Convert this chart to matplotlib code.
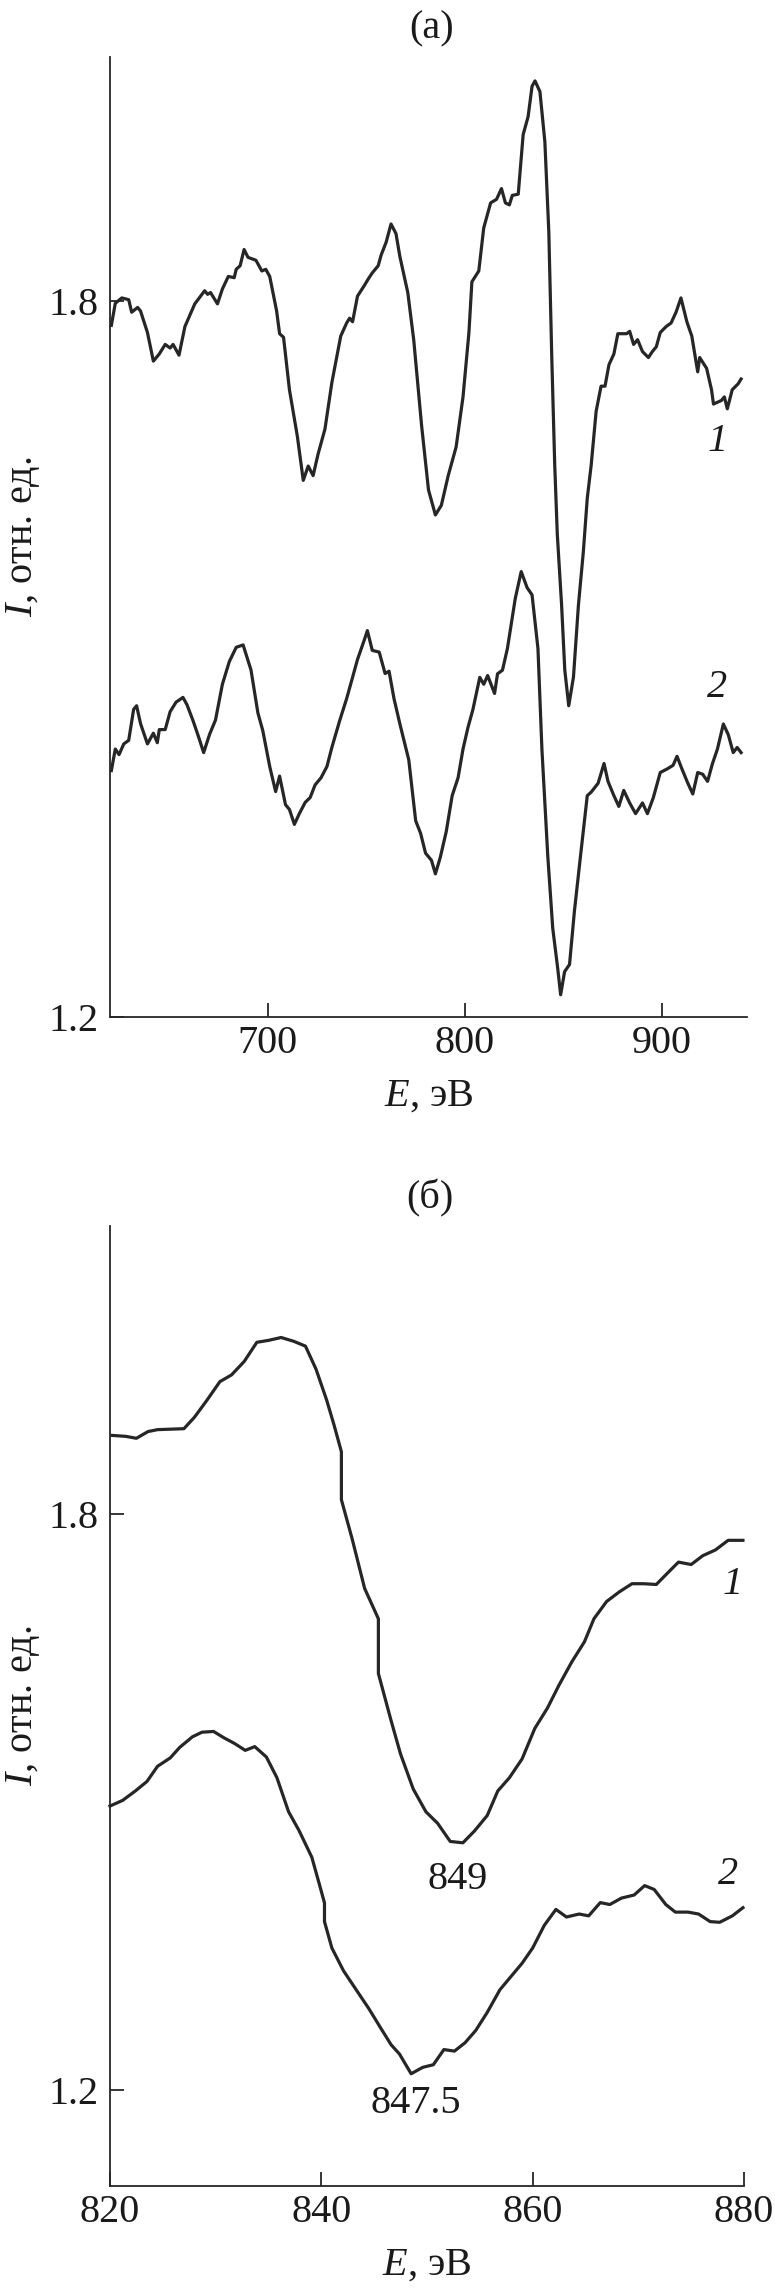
import matplotlib
matplotlib.use("Agg")
import matplotlib.pyplot as plt

plt.rcParams['font.family'] = ['Liberation Serif', 'DejaVu Serif']
plt.rcParams['mathtext.fontset'] = 'custom'
plt.rcParams['mathtext.rm'] = 'Liberation Serif'
plt.rcParams['mathtext.it'] = 'Liberation Serif:italic'

# ---------------- data: panel (a) ----------------
E_a1 = [620.7, 622.7, 626, 629.5, 631, 634, 635.5, 639, 642, 645, 648, 650.5, 652, 655, 658, 663, 668,
        669.5, 671, 674.5, 677, 680, 683, 684, 686, 688, 690, 694, 697, 699, 701, 704.5, 706, 708, 711,
        715, 718, 720.5, 723, 725.5, 729, 732.5, 737, 740, 741.5, 743, 745.5, 749, 751, 753, 756, 757.5,
        760, 762.5, 765, 767, 771, 774, 778, 781.5, 785, 788, 791.5, 795.5, 799, 802, 803.5, 807, 809.5,
        813, 816, 818.5, 820.5, 822.5, 824, 827, 829.5, 832, 834, 835.5, 838, 840.5, 842.5, 844, 845.5,
        846.8, 849, 850.6, 852.6, 855, 857.5, 860, 862, 864, 866.5, 869, 871, 873, 875.5, 877.5, 882,
        883.5, 885.5, 887.5, 890, 893, 895, 897, 899, 902, 904.5, 907, 909.5, 912.5, 915, 918, 919, 922.5,
        925, 926, 930, 931.5, 933, 935.5, 938.5, 940]
I_a1 = [1.780, 1.7985, 1.803, 1.8015, 1.791, 1.795, 1.792, 1.774, 1.750, 1.756, 1.764, 1.761, 1.764, 1.755,
        1.779, 1.798, 1.809, 1.806, 1.8075, 1.798, 1.8105, 1.821, 1.820, 1.827, 1.830, 1.8436, 1.837, 1.8346,
        1.8256, 1.827, 1.821, 1.792, 1.773, 1.770, 1.726, 1.687, 1.650, 1.662, 1.654, 1.672, 1.693, 1.732,
        1.771, 1.782, 1.786, 1.783, 1.8045, 1.8135, 1.819, 1.824, 1.830, 1.839, 1.8496, 1.865, 1.857, 1.8376,
        1.8075, 1.768, 1.696, 1.642, 1.621, 1.629, 1.654, 1.678, 1.720, 1.774, 1.8165, 1.8256, 1.8617, 1.8827,
        1.8857, 1.8947, 1.8827, 1.881, 1.889, 1.890, 1.940, 1.955, 1.9805, 1.985, 1.976, 1.934, 1.8586, 1.7534,
        1.663, 1.605, 1.545, 1.491, 1.461, 1.485, 1.545, 1.590, 1.635, 1.663, 1.708, 1.729, 1.729, 1.747, 1.756,
        1.773, 1.773, 1.775, 1.764, 1.768, 1.758, 1.753, 1.758, 1.762, 1.774, 1.779, 1.782, 1.791, 1.803, 1.783,
        1.771, 1.741, 1.753, 1.744, 1.726, 1.714, 1.717, 1.720, 1.710, 1.726, 1.731, 1.735]

E_a2 = [620.7, 622.7, 624.6, 627, 629.5, 632, 633.5, 635.5, 639, 642, 644, 645, 648, 650.5, 653.5, 657,
        659, 662, 664.5, 667.5, 670.5, 673.5, 677, 680.5, 684, 687.5, 691.5, 695, 697.5, 701, 704, 706,
        709, 711, 713.5, 716, 719, 721.5, 724, 727, 730, 732.5, 736.5, 740, 743, 745.5, 749, 750.5, 753,
        756.5, 759.5, 761.5, 764, 767, 771.5, 775, 777.5, 780, 783, 785, 787.5, 790.5, 793.5, 796.5, 799,
        801.5, 804, 807.5, 809.5, 811.5, 815, 816.5, 819, 821.5, 825.5, 828.5, 831.5, 834, 837, 839, 842,
        844.5, 847, 848.5, 850.5, 853, 855.5, 858.5, 862, 864, 867.5, 870.5, 872.5, 875.5, 878, 880.5,
        883.5, 886.5, 890, 892.5, 895.5, 899, 902.5, 905.5, 907.5, 910, 913, 915.5, 918, 920.5, 923,
        925.5, 928, 931, 933.5, 936, 938, 940]
I_a2 = [1.4066, 1.4247, 1.420, 1.429, 1.432, 1.458, 1.461, 1.446, 1.429, 1.438, 1.430, 1.441, 1.441, 1.456,
        1.464, 1.468, 1.462, 1.449, 1.437, 1.4217, 1.437, 1.449, 1.479, 1.498, 1.510, 1.512, 1.491, 1.455,
        1.440, 1.410, 1.389, 1.402, 1.378, 1.374, 1.3615, 1.3705, 1.380, 1.384, 1.3946, 1.4006, 1.410, 1.426,
        1.4487, 1.467, 1.4848, 1.4998, 1.5164, 1.524, 1.5074, 1.506, 1.488, 1.490, 1.467, 1.4457, 1.4156,
        1.3645, 1.354, 1.3374, 1.3314, 1.320, 1.334, 1.3555, 1.3856, 1.4006, 1.4247, 1.4427, 1.4577, 1.4848,
        1.479, 1.4863, 1.4713, 1.4878, 1.4908, 1.5089, 1.551, 1.5735, 1.560, 1.554, 1.5089, 1.4247, 1.3344,
        1.2743, 1.241, 1.2186, 1.238, 1.244, 1.289, 1.334, 1.3856, 1.3886, 1.396, 1.4126, 1.3976, 1.3856,
        1.3766, 1.390, 1.3795, 1.3705, 1.3795, 1.3705, 1.384, 1.405, 1.408, 1.411, 1.4186, 1.408, 1.396,
        1.387, 1.405, 1.4036, 1.3976, 1.4126, 1.4247, 1.4457, 1.4367, 1.4217, 1.426, 1.4217]

# ---------------- data: panel (б) ----------------
E_b1 = [820.2, 821.5, 822.5, 823.6, 824.5, 826, 827, 828, 829.2, 830.4, 831.5, 832.7, 833.9, 835, 836.2,
        837.4, 838.5, 839.5, 840.5, 841.2, 841.9, 841.9, 842.9, 844.1, 845.4, 845.4, 846.6, 847.5, 848.7,
        849.9, 851, 852.2, 853.4, 854.5, 855.7, 856.7, 857.8, 859, 860.2, 861.4, 862.5, 863.7, 864.9,
        865.8, 867, 868.2, 869.4, 870.5, 871.7, 872.8, 873.8, 875, 876.1, 877.3, 878.5, 879.9]
I_b1 = [1.882, 1.881, 1.879, 1.886, 1.888, 1.8886, 1.889, 1.901, 1.919, 1.938, 1.945, 1.959, 1.979, 1.981,
        1.984, 1.980, 1.975, 1.951, 1.919, 1.893, 1.865, 1.815, 1.775, 1.7226, 1.691, 1.634, 1.585, 1.550,
        1.5136, 1.4899, 1.478, 1.459, 1.4576, 1.470, 1.486, 1.5116, 1.5254, 1.545, 1.5767, 1.598, 1.622,
        1.646, 1.667, 1.691, 1.709, 1.719, 1.7275, 1.7275, 1.7267, 1.739, 1.750, 1.7475, 1.7567, 1.7627,
        1.7727, 1.7727]

E_b2 = [820, 821.2, 822.4, 823.5, 824.5, 825.7, 826.6, 827.8, 828.7, 829.8, 830.8, 831.8, 832.8, 833.7,
        834.8, 835.8, 836.9, 837.9, 839.1, 839.8, 840.3, 840.3, 841, 842.1, 843.3, 844.5, 845.6, 846.6,
        847.4, 848.5, 849.6, 850.6, 851.6, 852.6, 853.6, 854.6, 855.7, 856.9, 858.1, 859, 860, 861.1,
        862.2, 863.2, 864.4, 865.3, 866.4, 867.3, 868.4, 869.6, 870.6, 871.5, 872.6, 873.5, 874.7, 875.7,
        876.8, 877.7, 878.9, 879.9]
I_b2 = [1.4959, 1.5018, 1.5116, 1.5215, 1.5373, 1.546, 1.557, 1.568, 1.5728, 1.5736, 1.5669, 1.561, 1.5539,
        1.5578, 1.547, 1.5254, 1.490, 1.4702, 1.4426, 1.415, 1.395, 1.3755, 1.348, 1.3243, 1.3045, 1.2848,
        1.265, 1.2473, 1.2375, 1.217, 1.2237, 1.2264, 1.2422, 1.2406, 1.2493, 1.2619, 1.2809, 1.3045, 1.3203,
        1.3321, 1.348, 1.3716, 1.3882, 1.3803, 1.3834, 1.3815, 1.3953, 1.3933, 1.400, 1.4032, 1.413, 1.409,
        1.3933, 1.3854, 1.3854, 1.3834, 1.3755, 1.3748, 1.3815, 1.390]

xticks_a = [700, 800, 900]
yticks_a = [1.2, 1.8]
xticks_b = [820, 840, 860, 880]
yticks_b = [1.2, 1.8]

line_color = '#262626'
fs = 29

fig = plt.figure(figsize=(7.75, 22.91), dpi=100)
ax1 = fig.add_axes([0.1419, 0.5561, 0.8220, 0.4190])
ax2 = fig.add_axes([0.1419, 0.0458, 0.8181, 0.4190])


def style(ax, xlim, ylim, xt, yt, title):
    ax.set_xlim(*xlim)
    ax.set_ylim(*ylim)
    ax.set_xticks(xt)
    ax.set_xticklabels([str(v) for v in xt])
    ax.set_yticks(yt)
    ax.set_yticklabels([f"{v:.1f}" for v in yt])
    for s in ['top', 'right']:
        ax.spines[s].set_visible(False)
    for s in ['left', 'bottom']:
        ax.spines[s].set_linewidth(1.3)
        ax.spines[s].set_color(line_color)
    ax.tick_params(direction='in', length=10, width=1.3, color=line_color,
                   labelsize=fs, labelcolor='#1a1a1a')
    ax.tick_params(axis='x', pad=6)
    ax.tick_params(axis='y', pad=8)
    ax.set_xlabel(r'$E$, эВ', fontsize=fs, color='#1a1a1a')
    ax.xaxis.set_label_coords(0.5, -0.082)
    ax.xaxis.label.set_va('center')
    ax.set_ylabel(r'$I$, отн. ед.', fontsize=fs, color='#1a1a1a')
    ax.yaxis.set_label_coords(-0.137, 0.5)
    ax.yaxis.label.set_va('center')
    ax.text(0.505, 1.029, title, transform=ax.transAxes, ha='center', va='center',
            fontsize=fs, color='#1a1a1a')


style(ax1, (620, 943), (1.2, 2.005), xticks_a, yticks_a, '(а)')
style(ax2, (820, 880), (1.1, 2.1), xticks_b, yticks_b, '(б)')

for ax, (x1, y1, x2, y2) in [(ax1, (E_a1, I_a1, E_a2, I_a2)), (ax2, (E_b1, I_b1, E_b2, I_b2))]:
    ax.plot(x1, y1, color=line_color, lw=2.3, solid_joinstyle='round', clip_on=False)
    ax.plot(x2, y2, color=line_color, lw=2.3, solid_joinstyle='round', clip_on=False)

ax1.text(928.3, 1.683, '1', fontsize=fs, style='italic', ha='center', va='center', color='#1a1a1a')
ax1.text(927.8, 1.476, '2', fontsize=fs, style='italic', ha='center', va='center', color='#1a1a1a')
ax2.text(878.9, 1.727, '1', fontsize=fs, style='italic', ha='center', va='center', color='#1a1a1a')
ax2.text(878.5, 1.425, '2', fontsize=fs, style='italic', ha='center', va='center', color='#1a1a1a')
ax2.text(852.9, 1.419, '849', fontsize=fs, ha='center', va='center', color='#1a1a1a')
ax2.text(848.9, 1.186, '847.5', fontsize=fs, ha='center', va='center', color='#1a1a1a')

fig.savefig('out.png', dpi=100)
